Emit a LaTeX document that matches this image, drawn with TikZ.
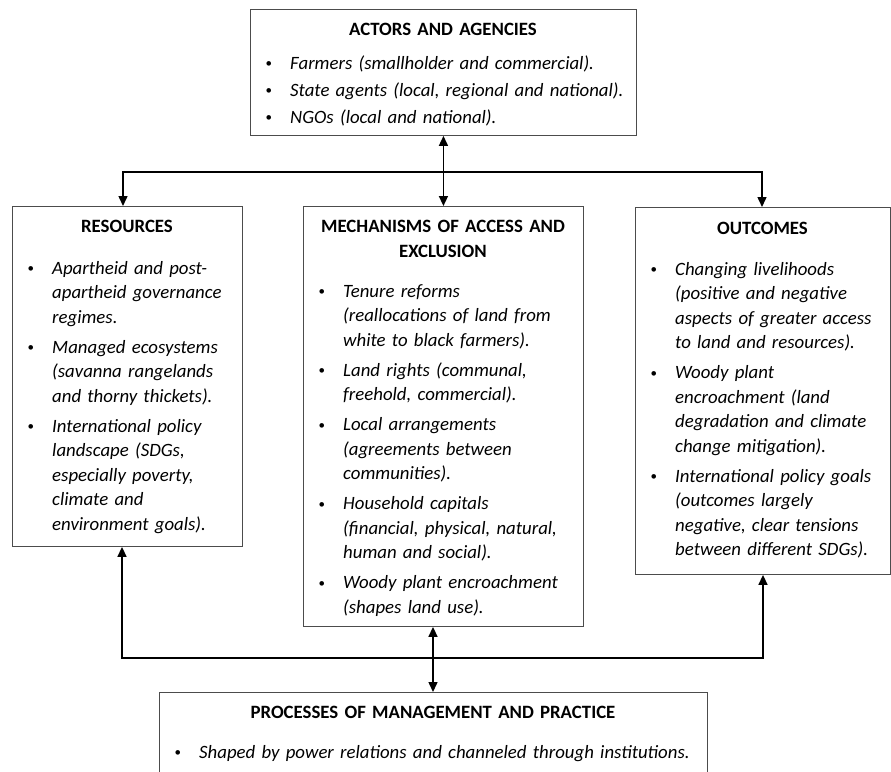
\documentclass[tikz,border=0pt]{standalone}
\usepackage{fontspec}
\setmainfont{Carlito}
\usetikzlibrary{arrows.meta,calc}

\newcommand{\smallbul}{{\fontsize{13pt}{13pt}\selectfont\raisebox{1.2pt}{\textbullet}}}
\newcommand{\bitem}[1]{\hangindent=25pt\hangafter=1\noindent\makebox[25pt][l]{\hspace{0.5pt}\smallbul}\textit{#1}\par}

\tikzset{
  box/.style={draw=black!70, line width=0.9pt, inner sep=0pt, anchor=north west},
  ttl/.style={anchor=base, font=\fontsize{18.8pt}{25pt}\selectfont\bfseries, align=center, inner sep=0pt},
  blist/.style={anchor=base west, font=\fontsize{18.8pt}{24.5pt}\selectfont, inner sep=0pt, align=left},
  conn/.style={line width=1.5pt, black, {Triangle[width=9pt,length=10pt]}-{Triangle[width=9pt,length=10pt]}},
}

\begin{document}
\begin{tikzpicture}
\useasboundingbox (0,0) rectangle (891pt,-771pt);
\fill[white] (0,0) rectangle (891pt,-771pt);
\clip (0,0) rectangle (891pt,-771pt);

% boxes
\node[box, minimum width=386pt, minimum height=126pt] (top) at (250pt,-9pt) {};
\node[box, minimum width=230pt, minimum height=340pt] (res) at (12pt,-206pt) {};
\node[box, minimum width=280pt, minimum height=420pt] (mech) at (303pt,-206pt) {};
\node[box, minimum width=255pt, minimum height=367pt] (out) at (635pt,-207pt) {};
\node[box, minimum width=548pt, minimum height=110pt] (proc) at (159pt,-692pt) {};

% titles
\node[ttl, text width=386pt] (toptitle) at (443pt,-35pt) {ACTORS AND AGENCIES};
\node[ttl, text width=230pt] (restitle) at (127pt,-232pt) {RESOURCES};
\node[ttl, text width=280pt] (mechtitle) at (443pt,-232pt) {MECHANISMS OF ACCESS AND\\EXCLUSION};
\node[ttl, text width=255pt] (outtitle) at (762.5pt,-234pt) {OUTCOMES};
\node[ttl, text width=548pt] (proctitle) at (433pt,-718pt) {PROCESSES OF MANAGEMENT AND PRACTICE};

% bullet lists
\node[blist, text width=365pt] (toplist) at (265pt,-69pt) {\setlength{\parskip}{2.5pt}%
\bitem{Farmers (smallholder and commercial).}
\bitem{State agents (local, regional and national).}
\bitem{NGOs (local and national).}};

\node[blist, text width=225pt] (reslist) at (27pt,-274pt) {\setlength{\parskip}{5.5pt}%
\bitem{Apartheid and post-\newline apartheid governance\newline regimes.}
\bitem{Managed ecosystems\newline (savanna rangelands\newline and thorny thickets).}
\bitem{International policy\newline landscape (SDGs,\newline especially poverty,\newline climate and\newline environment goals).}};

\node[blist, text width=262pt] (mechlist) at (318pt,-297pt) {\setlength{\parskip}{5.5pt}%
\bitem{Tenure reforms\newline (reallocations of land from\newline white to black farmers).}
\bitem{Land rights (communal,\newline freehold, commercial).}
\bitem{Local arrangements\newline (agreements between\newline communities).}
\bitem{Household capitals\newline (financial, physical, natural,\newline human and social).}
\bitem{Woody plant encroachment\newline (shapes land use).}};

\node[blist, text width=238pt] (outlist) at (650pt,-275pt) {\setlength{\parskip}{5.5pt}%
\bitem{Changing livelihoods\newline (positive and negative\newline aspects of greater access\newline to land and resources).}
\bitem{Woody plant\newline encroachment (land\newline degradation and climate\newline change mitigation).}
\bitem{International policy goals\newline (outcomes largely\newline negative, clear tensions\newline between different SDGs).}};

\node[blist, text width=530pt] (proclist) at (174pt,-758pt) {%
\bitem{Shaped by power relations and channeled through institutions.}};

% connectors
\coordinate (tl) at (123pt,-172pt);
\coordinate (tr) at (762pt,-172pt);
\draw[conn] (tl |- res.north) -- (tl) -- (tr) -- (tr |- out.north);
\draw[conn] (top.south) -- (mech.north);

\coordinate (bl) at (122pt,-658pt);
\coordinate (br) at (763pt,-658pt);
\draw[conn] (bl |- res.south) -- (bl) -- (br) -- (br |- out.south);
\coordinate (bm) at (433pt,-640pt);
\draw[conn] (bm |- mech.south) -- (bm |- proc.north);
\end{tikzpicture}
\end{document}
